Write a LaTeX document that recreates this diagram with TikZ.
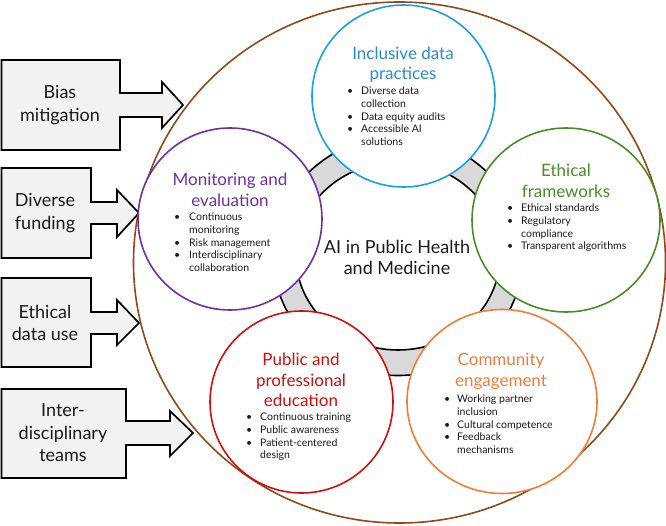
\documentclass[tikz,border=0pt]{standalone}
\usepackage{fontspec}
\setmainfont{Lato}
\usetikzlibrary{shapes.geometric}
\definecolor{cblue}{HTML}{1BA1E2}
\definecolor{tblue}{HTML}{2A8AD4}
\definecolor{cgreen}{HTML}{4A8C2A}
\definecolor{cpurple}{HTML}{7030A0}
\definecolor{cred}{HTML}{D01010}
\definecolor{corange}{HTML}{EF7D3C}
\definecolor{cbrown}{HTML}{8E4A1C}
\definecolor{ringgray}{HTML}{D9D9D9}
\definecolor{boxgray}{HTML}{F2F2F2}
\definecolor{txt}{HTML}{1A1A1A}
\tikzset{
  arrowbox/.style={draw=black, fill=boxgray, line width=1.7pt, line join=miter},
  boxtext/.style={font=\fontsize{18}{22.5}\selectfont, align=center, text=txt, inner sep=0pt},
  topic/.style={draw, fill=white, line width=1.6pt, ellipse, inner sep=0pt},
  ttl/.style={font=\fontsize{17}{20.5}\selectfont, align=center, inner sep=0pt},
  blist/.style={font=\fontsize{10.5}{12.8}\selectfont, anchor=base west, inner sep=0pt, text=txt},
}
\newcommand{\bitems}[2]{\begin{tabular}[t]{@{}p{#1}@{}l@{}}#2\end{tabular}}
\begin{document}
\begin{tikzpicture}[x=1pt,y=-1pt]
\useasboundingbox (0,0) rectangle (666,526);
% left arrow boxes
\draw[arrowbox] (1.5,60) -- (120,60) -- (120,93) -- (162,93) -- (162,82) -- (183,105) -- (162,128) -- (162,117) -- (120,117) -- (120,150) -- (1.5,150) -- cycle;
\draw[arrowbox] (1.5,168) -- (91,168) -- (91,202) -- (117,202) -- (117,190) -- (139,213) -- (117,237) -- (117,224) -- (91,224) -- (91,258) -- (1.5,258) -- cycle;
\draw[arrowbox] (1.5,278) -- (91,278) -- (91,312) -- (117,312) -- (117,300) -- (139,323) -- (117,345) -- (117,334) -- (91,334) -- (91,367) -- (1.5,367) -- cycle;
\draw[arrowbox] (1.5,389) -- (126,389) -- (126,421) -- (170,421) -- (170,411) -- (193,433) -- (170,456) -- (170,445) -- (126,445) -- (126,478) -- (1.5,478) -- cycle;
\node[boxtext] (bias) at (60,105) {Bias\\mitigation};
\node[boxtext] (fund) at (45,213) {Diverse\\funding};
\node[boxtext] (ethuse) at (45,323) {Ethical\\data use};
\node[boxtext] (inter) at (63,433) {Inter-\\disciplinary\\teams};
% outer brown ellipse
\draw[cbrown, line width=1.6pt] (399.5,262.5) ellipse [x radius=266pt, y radius=260.5pt];
% gray ring
\fill[ringgray, even odd rule] (398,256) ellipse [x radius=125pt, y radius=119.5pt] (398,256) ellipse [x radius=102pt, y radius=94pt];
\draw[black, line width=1.6pt] (398,256) ellipse [x radius=125pt, y radius=119.5pt];
\draw[black, line width=1.6pt] (398,256) ellipse [x radius=102pt, y radius=94pt];
% topic circles
\node[topic, draw=cblue, minimum width=183pt, minimum height=182pt] (incl) at (403.5,96) {};
\node[topic, draw=cgreen, minimum width=188pt, minimum height=184pt] (ethf) at (566,220) {};
\node[topic, draw=corange, minimum width=190pt, minimum height=184pt] (comm) at (502,401.5) {};
\node[topic, draw=cred, minimum width=183pt, minimum height=182pt] (educ) at (301.5,402) {};
\node[topic, draw=cpurple, minimum width=184pt, minimum height=182pt] (moni) at (230,219) {};
% centre text
\node[font=\fontsize{18}{21}\selectfont, align=center, text=txt, inner sep=0pt] (core) at (397,257.5) {AI in Public Health\\and Medicine};
% titles
\node[ttl, text=tblue] (inclT) at (403,64.5) {Inclusive data\\practices};
\node[ttl, text=cgreen] (ethfT) at (566,181) {Ethical\\frameworks};
\node[ttl, text=corange] (commT) at (501,371.5) {Community\\engagement};
\node[ttl, text=cred] (educT) at (301,380) {Public and\\professional\\education};
\node[ttl, text=cpurple] (moniT) at (230,190) {Monitoring and\\evaluation};
% bullet lists
\node[blist] (inclL) at (347,94.5) {\bitems{14pt}{• & Diverse data\\ & collection\\ • & Data equity audits\\ • & Accessible AI\\ & solutions}};
\node[blist] (ethfL) at (507,211.5) {\bitems{14pt}{• & Ethical standards\\ • & Regulatory\\ & compliance\\ • & Transparent algorithms}};
\node[blist] (moniL) at (174,220.5) {\bitems{15pt}{• & Continuous\\ & monitoring\\ • & Risk management\\ • & Interdisciplinary\\ & collaboration}};
\node[blist] (educL) at (246,420.5) {\bitems{14pt}{• & Continuous training\\ • & Public awareness\\ • & Patient-centered\\ & design}};
\node[blist] (commL) at (444,402.5) {\bitems{13pt}{• & Working partner\\ & inclusion\\ • & Cultural competence\\ • & Feedback\\ & mechanisms}};
\end{tikzpicture}
\end{document}
